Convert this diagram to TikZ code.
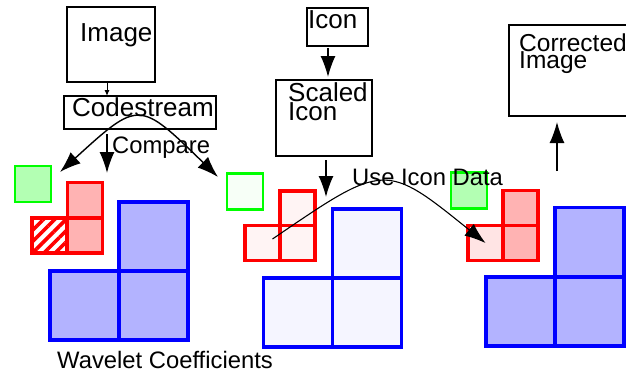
\documentclass[tikz,border=0pt]{standalone}
\usepackage{fontspec}
\setmainfont{Liberation Sans}
\usetikzlibrary{arrows.meta,patterns.meta}
\definecolor{gfill}{HTML}{B3FFB3}
\definecolor{rfill}{HTML}{FFB3B3}
\definecolor{bfill}{HTML}{B3B3FF}
\definecolor{gpale}{HTML}{F7FFF7}
\definecolor{rpale}{HTML}{FFF4F4}
\definecolor{bpale}{HTML}{F5F5FF}
\definecolor{rmid}{HTML}{FFE4E4}
\tikzset{
  box/.style={draw, line width=1.8pt, inner sep=0pt},
  boxtext/.style={inner sep=0pt, anchor=base west, align=left, font=\fontsize{26}{19}\selectfont},
  lbl/.style={inner sep=0pt, anchor=base west, font=\fontsize{23.8}{20}\selectfont},
  gsq/.style={draw=green, line width=2.8pt, minimum size=36pt, inner sep=0pt},
  rsq/.style={draw=red, line width=3.2pt, minimum size=35pt, inner sep=0pt},
  bsq/.style={draw=blue, line width=3.3pt, minimum size=69pt, inner sep=0pt},
  bigarrow/.style={-{Latex[length=21pt,width=15pt]}, line width=1.4pt},
}
\begin{document}
\begin{tikzpicture}[x=1pt,y=-1pt]
	\clip (0,0) rectangle (626,376);
	\node [box, minimum width=88pt, minimum height=75pt] (image) at (111,44.5) {};
	\node [boxtext] (imagetext) at (80,41) {Image};
	\node [box, minimum width=152pt, minimum height=33pt] (code) at (140,112.5) {};
	\node [boxtext] (codetext) at (72,116) {Codestream};
	\draw [-{Latex[length=6pt,width=5pt]}, line width=1pt] (107,83) -- (107,96);
	\coordinate (codeout) at (107,134);
	\coordinate (codein) at (107,173);
	\draw [bigarrow] (codeout) -- (codein);
	\node [gsq, fill=gfill] (lg) at (33,184) {};
	\node [rsq, fill=rfill] (lr1) at (85,200) {};
	\node [rsq, fill=rfill] (lr2) at (85,235.5) {};
	\node [rsq, fill=white, pattern={Lines[angle=45,distance=8pt,line width=3.6pt]}, pattern color=red] (lr3) at (49.5,235.5) {};
	\node [bsq, fill=bfill] (lb1) at (153.5,236.5) {};
	\node [bsq, fill=bfill] (lb2) at (84.5,305.5) {};
	\node [bsq, fill=bfill] (lb3) at (153.5,305.5) {};
	\node [lbl] (cmp) at (112,153) {Compare};
	\coordinate (cmpl) at (60,172);
	\coordinate (cmpr) at (218,177);
	\draw [{Latex[length=21pt,width=15pt]}-{Latex[length=21pt,width=15pt]}, line width=1.4pt] (cmpl) .. controls (139,100) .. (cmpr);
	\node [lbl] (wave) at (57,368) {Wavelet Coefficients};

	\node [box, minimum width=61pt, minimum height=38pt] (icon) at (337.5,27) {};
	\node [boxtext] (icontext) at (308,28) {Icon};
	\node [box, minimum width=96pt, minimum height=76pt] (scaled) at (324,118) {};
	\node [boxtext] (scaledtext) at (288,120) {Scaled\\Icon};
	\draw [bigarrow] (328,48) -- (328,77);
	\draw [bigarrow] (326,160) -- (326,197);
	\node [gsq, fill=gpale] (mg) at (245,191.5) {};
	\node [rsq, fill=rpale] (mr1) at (297.5,208.5) {};
	\node [rsq, fill=rpale] (mr2) at (262.5,243) {};
	\node [rsq, fill=rpale] (mr3) at (297.5,243) {};
	\node [bsq, fill=bpale] (mb1) at (367,243.5) {};
	\node [bsq, fill=bpale] (mb2) at (298,312.5) {};
	\node [bsq, fill=bpale] (mb3) at (367,312.5) {};

	\node [box, minimum width=126pt, minimum height=91pt] (corr) at (572,70.5) {};
	\node [boxtext, font=\fontsize{24.5}{17.5}\selectfont] (corrtext) at (519,68.5) {Corrected\\Image};
	\draw [bigarrow] (557,171) -- (557,122);
	\node [gsq, fill=gfill] (rg) at (469,190.5) {};
	\node [rsq, fill=rfill] (rr1) at (520.5,208) {};
	\node [rsq, fill=rmid] (rr2) at (485.5,243) {};
	\node [rsq, fill=rfill] (rr3) at (520.5,243) {};
	\node [bsq, fill=bfill] (rb1) at (589.5,242) {};
	\node [bsq, fill=bfill] (rb2) at (520.5,311.5) {};
	\node [bsq, fill=bfill] (rb3) at (589.5,311.5) {};

	\node [lbl] (use) at (352,185) {Use Icon Data};
	\draw [bigarrow, line width=1.1pt] (mr2.center) ++(10,-4) .. controls (385,162) .. (rr2.center);
\end{tikzpicture}
\end{document}
